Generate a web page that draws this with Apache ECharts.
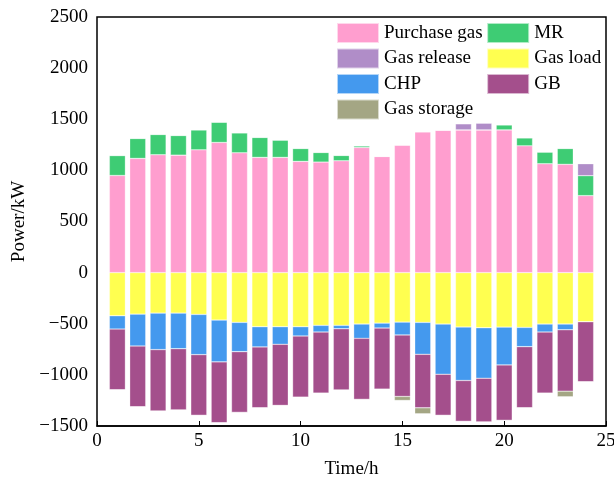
<!DOCTYPE html>
<html>
<head>
<meta charset="utf-8">
<script src="https://cdn.jsdelivr.net/npm/echarts@6/dist/echarts.min.js"></script>
<style>
  html, body { margin: 0; padding: 0; background: #fff; }
  #chart { width: 614px; height: 482px; }
</style>
</head>
<body>
<div id="chart"></div>
<script>
// x axis runs 0..25, bars sit on hours 1..24
const timeTicks = ['0', '1', '2', '3', '4', '5', '6', '7', '8', '9', '10', '11', '12', '13', '14', '15', '16', '17', '18', '19', '20', '21', '22', '23', '24', '25'];

// supply side (positive), hours 1..24
const purchaseGas = [950, 1117, 1153, 1149, 1201, 1273, 1172, 1127, 1127, 1088, 1081, 1094, 1224, 1136, 1247, 1377, 1393, 1396, 1396, 1396, 1240, 1065, 1059, 753];
const mr = [195, 195, 198, 192, 195, 198, 195, 195, 169, 126, 94, 52, 16, 0, 0, 0, 0, 0, 0, 49, 78, 114, 155, 195];
const gasRelease = [0, 0, 0, 0, 0, 0, 0, 0, 0, 0, 0, 0, 0, 0, 0, 0, 0, 59, 65, 0, 0, 0, 0, 117];

// demand side (negative)
const gasLoad = [-422, -406, -396, -396, -409, -464, -487, -529, -529, -529, -516, -516, -503, -494, -484, -487, -503, -533, -539, -533, -536, -503, -503, -481];
const chp = [-130, -312, -357, -348, -393, -409, -286, -198, -172, -91, -65, -33, -140, -48, -126, -312, -491, -522, -494, -370, -188, -78, -56, 0];
const gb = [-594, -594, -601, -600, -594, -595, -594, -595, -598, -598, -598, -600, -597, -598, -601, -523, -402, -400, -428, -542, -598, -598, -600, -587];
const gasStorage = [0, 0, 0, 0, 0, 0, 0, 0, 0, 0, 0, 0, 0, 0, -39, -58, 0, 0, 0, 0, 0, 0, -55, 0];

const legendOrder = ['Purchase gas', 'Gas release', 'CHP', 'Gas storage', 'MR', 'Gas load', 'GB'];

const font = 'Liberation Serif, Times New Roman, serif';

function bar(name, values, color) {
    // pad with empty slots for tick 0 and tick 25
    return {
        name: name,
        type: 'bar',
        stack: 'total',
        barWidth: 16,
        data: [null].concat(values, [null]),
        itemStyle: { color: color, borderColor: 'rgba(255,255,255,0.6)', borderWidth: 0.5 }
    };
}

const chart = echarts.init(document.getElementById('chart'), null, { renderer: 'canvas' });

chart.setOption({
    animation: false,
    textStyle: { fontFamily: font },
    grid: { left: 97, right: 8, top: 17, bottom: 56, containLabel: false, outerBoundsMode: 'none' },
    legend: {
        data: legendOrder,
        orient: 'vertical',
        left: 336,
        top: 22,
        height: 100,
        padding: 0,
        itemWidth: 42,
        itemHeight: 20,
        itemGap: 3.5,
        icon: 'rect',
        textStyle: { fontFamily: font, fontSize: 19, color: '#000' }
    },
    xAxis: {
        type: 'category',
        data: timeTicks,
        boundaryGap: false,
        name: 'Time/h',
        nameLocation: 'middle',
        nameGap: 34,
        nameTextStyle: { fontFamily: font, fontSize: 19, color: '#000' },
        axisLine: { onZero: false, lineStyle: { color: '#000', width: 1.5 } },
        axisTick: { inside: true, length: 5, interval: 4, lineStyle: { color: '#000' } },
        axisLabel: { fontFamily: font, fontSize: 19, color: '#000', margin: 6, interval: 4 },
        splitLine: { show: false }
    },
    yAxis: {
        type: 'value',
        min: -1500,
        max: 2500,
        interval: 500,
        name: 'Power/kW',
        nameLocation: 'middle',
        nameGap: 68,
        nameTextStyle: { fontFamily: font, fontSize: 19, color: '#000' },
        axisLine: { onZero: false, lineStyle: { color: '#000', width: 1.5 } },
        axisTick: { inside: true, length: 5, lineStyle: { color: '#000' } },
        axisLabel: {
            fontFamily: font, fontSize: 19, color: '#000', margin: 9,
            formatter: v => String(v).replace('-', '\u2212')
        },
        splitLine: { show: false }
    },
    graphic: [{
        type: 'rect',
        shape: { x: 97, y: 17, width: 509, height: 409 },
        style: { fill: null, stroke: '#000', lineWidth: 1.5 },
        silent: true,
        z: 10
    }],
    series: [
        bar('Purchase gas', purchaseGas, '#ff9ecf'),
        bar('MR', mr, '#3ecc74'),
        bar('Gas release', gasRelease, '#b08dc8'),
        bar('Gas load', gasLoad, '#ffff50'),
        bar('CHP', chp, '#4499ee'),
        bar('GB', gb, '#a44f8c'),
        bar('Gas storage', gasStorage, '#a4a684')
    ]
});
</script>
</body>
</html>
